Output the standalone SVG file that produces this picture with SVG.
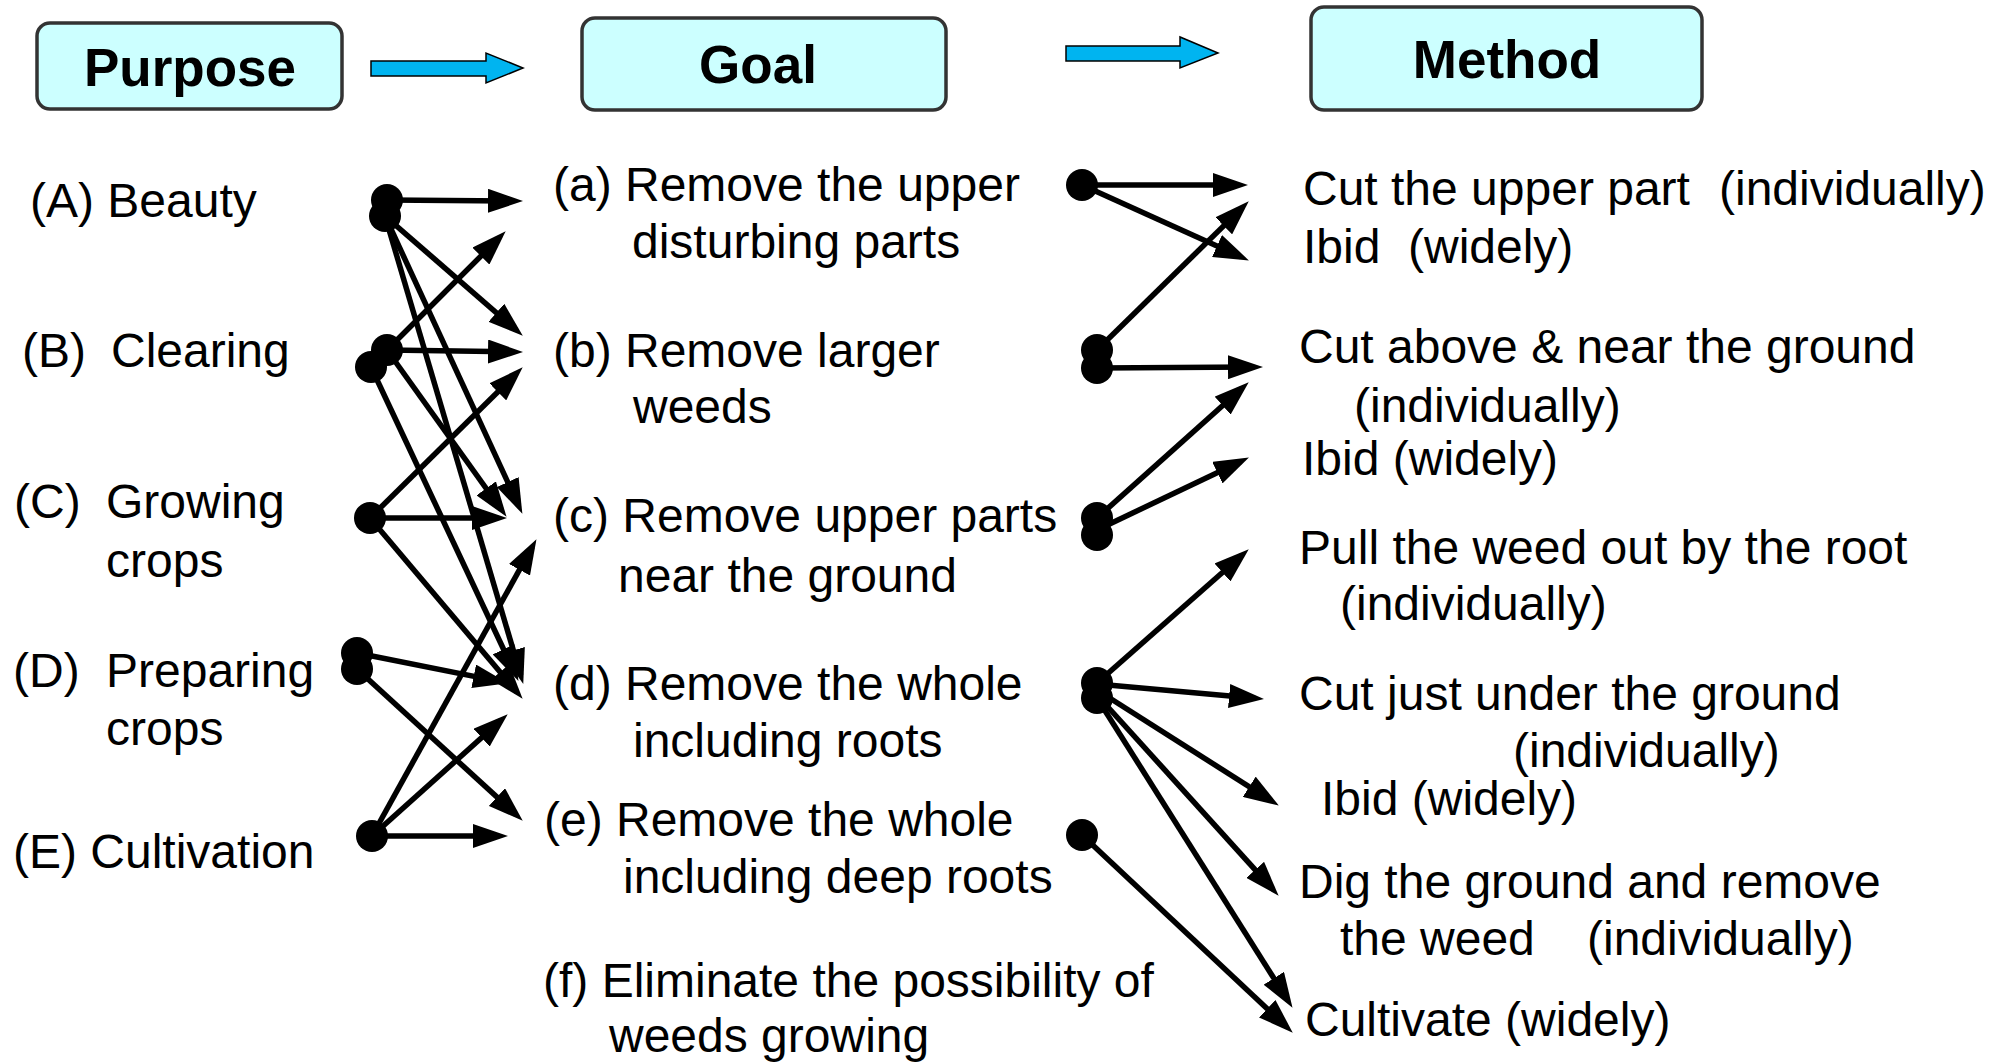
<svg xmlns="http://www.w3.org/2000/svg" width="2007" height="1063" viewBox="0 0 2007 1063">
<style>
.hbox{fill:#ccffff;stroke:#333333;stroke-width:3.5}
.htxt{font-family:"Liberation Sans",Arial,sans-serif;font-weight:bold;font-size:53px;fill:#000;text-anchor:middle}
.t{font-family:"Liberation Sans",Arial,sans-serif;font-size:48px;fill:#000}
.blk{fill:#00b4f0;stroke:#000;stroke-width:1.5}
.c{stroke:#000;stroke-width:5.5;fill:none;marker-end:url(#ah)}
.dot{fill:#000}
</style>
<defs>
<marker id="ah" markerUnits="userSpaceOnUse" viewBox="0 0 35 24" markerWidth="35" markerHeight="24" refX="26" refY="12" orient="auto">
<path d="M0,0 L35,12 L0,24 Z" fill="#000"/>
</marker>
</defs>
<rect width="2007" height="1063" fill="#fff"/>
<g id="header-purpose"><rect class="hbox" x="37" y="23" width="305" height="86" rx="13"/><text class="htxt" x="190" y="86">Purpose</text></g>
<g id="header-goal"><rect class="hbox" x="582" y="18" width="364" height="92" rx="13"/><text class="htxt" x="758" y="83">Goal</text></g>
<g id="header-method"><rect class="hbox" x="1311" y="7" width="391" height="103" rx="13"/><text class="htxt" x="1507" y="78">Method</text></g>
<g id="block-arrows">
<polygon class="blk" points="371,61 486,61 486,53 523,68 486,83 486,76 371,76"/>
<polygon class="blk" points="1066,46 1180,46 1180,37 1218,53 1180,68 1180,61 1066,61"/>
</g>
<g id="connectors">
<line class="c" x1="387" y1="200" x2="514" y2="201"/>
<line class="c" x1="385" y1="216" x2="516" y2="329.8"/>
<line class="c" x1="385" y1="216" x2="518.6" y2="505.7"/>
<line class="c" x1="385" y1="216" x2="520.7" y2="675.3"/>
<line class="c" x1="387" y1="350" x2="499.3" y2="237.7"/>
<line class="c" x1="387" y1="350" x2="514" y2="351.9"/>
<line class="c" x1="387" y1="350" x2="501.3" y2="509.5"/>
<line class="c" x1="371" y1="367" x2="514.6" y2="672.8"/>
<line class="c" x1="370" y1="518" x2="516.3" y2="373.6"/>
<line class="c" x1="370" y1="518" x2="498" y2="518"/>
<line class="c" x1="370" y1="518" x2="516.8" y2="691.9"/>
<line class="c" x1="357" y1="653" x2="499.2" y2="681.4"/>
<line class="c" x1="357" y1="669" x2="516.1" y2="814.6"/>
<line class="c" x1="372" y1="836" x2="532.1" y2="547"/>
<line class="c" x1="372" y1="836" x2="501" y2="720.3"/>
<line class="c" x1="372" y1="836" x2="499" y2="836"/>
<line class="c" x1="1082" y1="185" x2="1239" y2="185"/>
<line class="c" x1="1082" y1="185" x2="1240.7" y2="256.7"/>
<line class="c" x1="1097" y1="350" x2="1242.3" y2="207.6"/>
<line class="c" x1="1097" y1="368" x2="1254" y2="367"/>
<line class="c" x1="1097" y1="518" x2="1242" y2="388.3"/>
<line class="c" x1="1097" y1="530" x2="1240.8" y2="461.4"/>
<line class="c" x1="1097" y1="683" x2="1242" y2="555.3"/>
<line class="c" x1="1097" y1="684" x2="1255" y2="698.3"/>
<line class="c" x1="1097" y1="690" x2="1271.2" y2="800.7"/>
<line class="c" x1="1097" y1="695" x2="1272.6" y2="889.1"/>
<line class="c" x1="1097" y1="698" x2="1287.7" y2="1000.2"/>
<line class="c" x1="1082" y1="835" x2="1286.2" y2="1026.5"/>
</g>
<g id="purpose-A"><circle class="dot" cx="387" cy="200" r="16"/><circle class="dot" cx="385" cy="216" r="16"/><text class="t" x="30" y="217">(A) Beauty</text></g>
<g id="purpose-B"><circle class="dot" cx="387" cy="350" r="16"/><circle class="dot" cx="371" cy="367" r="16"/><text class="t" y="367"><tspan x="22">(B)</tspan><tspan x="111">Clearing</tspan></text></g>
<g id="purpose-C"><circle class="dot" cx="370" cy="518" r="16"/><text class="t" y="518"><tspan x="14">(C)</tspan><tspan x="106">Growing</tspan></text><text class="t" x="106" y="577">crops</text></g>
<g id="purpose-D"><circle class="dot" cx="357" cy="653" r="16"/><circle class="dot" cx="357" cy="669" r="16"/><text class="t" y="687"><tspan x="13">(D)</tspan><tspan x="106">Preparing</tspan></text><text class="t" x="106" y="745">crops</text></g>
<g id="purpose-E"><circle class="dot" cx="372" cy="836" r="16"/><text class="t" x="13" y="868">(E) Cultivation</text></g>
<g id="goal-a"><circle class="dot" cx="1082" cy="185" r="16"/><text class="t" x="553" y="201">(a) Remove the upper</text><text class="t" x="632" y="258">disturbing parts</text></g>
<g id="goal-b"><circle class="dot" cx="1097" cy="350" r="16"/><circle class="dot" cx="1097" cy="368" r="16"/><text class="t" x="553" y="367">(b) Remove larger</text><text class="t" x="633" y="423">weeds</text></g>
<g id="goal-c"><circle class="dot" cx="1097" cy="518" r="16"/><circle class="dot" cx="1097" cy="535" r="16"/><text class="t" x="553" y="532">(c) Remove upper parts</text><text class="t" x="618" y="592">near the ground</text></g>
<g id="goal-d"><circle class="dot" cx="1097" cy="683" r="16"/><circle class="dot" cx="1097" cy="698" r="16"/><text class="t" x="553" y="700">(d) Remove the whole</text><text class="t" x="633" y="757">including roots</text></g>
<g id="goal-e"><circle class="dot" cx="1082" cy="835" r="16"/><text class="t" x="544" y="836">(e) Remove the whole</text><text class="t" x="623" y="893">including deep roots</text></g>
<g id="goal-f"><text class="t" x="543" y="997">(f) Eliminate the possibility of</text><text class="t" x="609" y="1052">weeds growing</text></g>
<g id="method-1"><text class="t" y="205"><tspan x="1303">Cut the upper part</tspan><tspan x="1719">(individually)</tspan></text></g>
<g id="method-2"><text class="t" y="263"><tspan x="1303">Ibid</tspan><tspan x="1408">(widely)</tspan></text></g>
<g id="method-3"><text class="t" x="1299" y="363">Cut above &amp; near the ground</text><text class="t" x="1354" y="422">(individually)</text></g>
<g id="method-4"><text class="t" x="1302" y="475">Ibid (widely)</text></g>
<g id="method-5"><text class="t" x="1299" y="564">Pull the weed out by the root</text><text class="t" x="1340" y="620">(individually)</text></g>
<g id="method-6"><text class="t" x="1299" y="710">Cut just under the ground</text><text class="t" x="1513" y="767">(individually)</text></g>
<g id="method-7"><text class="t" x="1321" y="815">Ibid (widely)</text></g>
<g id="method-8"><text class="t" x="1299" y="898">Dig the ground and remove</text><text class="t" y="955"><tspan x="1340">the weed</tspan><tspan x="1587">(individually)</tspan></text></g>
<g id="method-9"><text class="t" x="1305" y="1036">Cultivate (widely)</text></g>
</svg>
